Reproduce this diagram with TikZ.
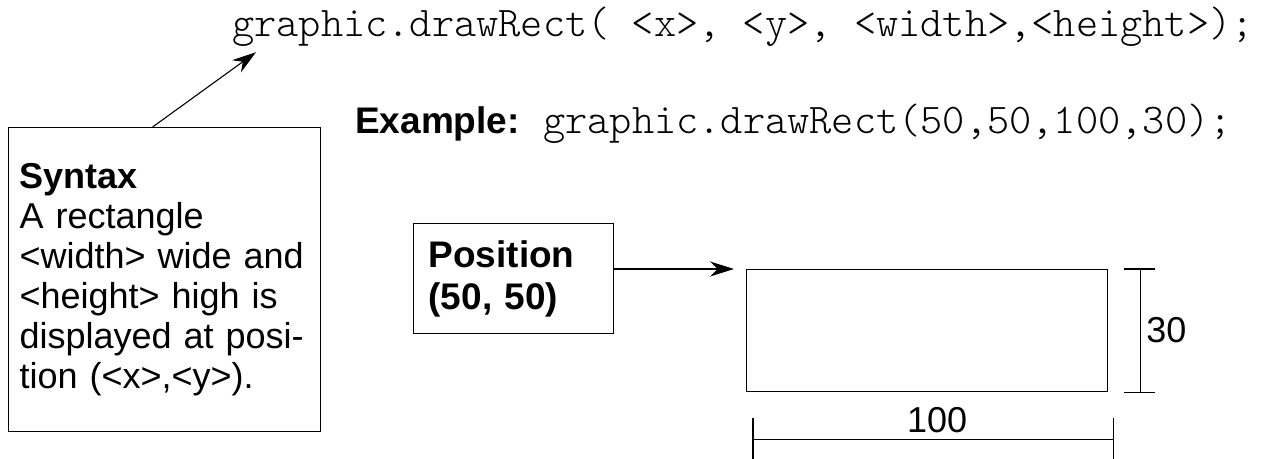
\documentclass[tikz,border=0pt]{standalone}
\usepackage{fontspec}
\setmainfont{Liberation Sans}
\setmonofont{Latin Modern Mono Light}
\usetikzlibrary{arrows.meta}
\begin{document}
\begin{tikzpicture}[x=1pt,y=-1pt,
  box/.style={draw, line width=1.2pt, inner sep=0pt},
  arr/.style={-{Stealth[length=24pt,width=15pt]}, line width=1.1pt},
  dim/.style={line width=1.1pt},
  code/.style={font=\fontsize{42.3}{44}\selectfont\ttfamily, inner sep=0pt, anchor=base west},
  txt/.style={font=\fontsize{36}{40}\selectfont, inner sep=0pt}]
\useasboundingbox (0,0) rectangle (1272,458);

\node[code] (sig) at (232,36) {graphic.drawRect( <x>, <y>, <width>,<height>);};

\node[txt, font=\fontsize{37}{40}\selectfont\bfseries, anchor=base west] (exl) at (355,133) {Example:};
\node[code] (ex) at (543,133) {graphic.drawRect(50,50,100,30);};

\node[box, txt, anchor=north west, align=left, text width=290pt, inner xsep=11pt,
      minimum height=304pt] (syn) at (8,127)
  {\textbf{Syntax}\\A rectangle\\<width> wide and\\<height> high is\\displayed at posi-\\tion (<x>,<y>).};

\node[box, txt, font=\fontsize{37}{42}\selectfont\bfseries, anchor=north west, align=left,
      text width=170pt, inner xsep=15pt, minimum height=110pt] (pos) at (413,223)
  {Position\\(50, 50)};

\node[box, minimum width=361pt, minimum height=122pt, anchor=north west] (rect) at (746,269) {};

\draw[arr] ([xshift=-12pt]syn.north) -- ([xshift=24pt,yshift=-6pt]sig.south west);
\draw[arr] (pos.east |- rect.north west) -- ([xshift=-12pt]rect.north west);

% vertical dimension
\draw[dim] ([xshift=32pt]rect.north east) -- ([xshift=32pt]rect.south east);
\draw[dim] ([xshift=16pt]rect.north east) -- ([xshift=47pt]rect.north east);
\draw[dim] ([xshift=16pt]rect.south east) -- ([xshift=47pt]rect.south east);
\node[txt, anchor=west] (h30) at ([xshift=38pt]rect.east) {30};

% horizontal dimension
\draw[dim] ([xshift=7pt,yshift=-47pt]rect.south west) -- ([xshift=5pt,yshift=-47pt]rect.south east);
\draw[dim] ([xshift=7pt,yshift=-26pt]rect.south west) -- ([xshift=7pt,yshift=-67pt]rect.south west);
\draw[dim] ([xshift=5pt,yshift=-26pt]rect.south east) -- ([xshift=5pt,yshift=-67pt]rect.south east);
\node[txt] (w100) at ([xshift=10pt,yshift=-28pt]rect.south) {100};
\end{tikzpicture}
\end{document}
